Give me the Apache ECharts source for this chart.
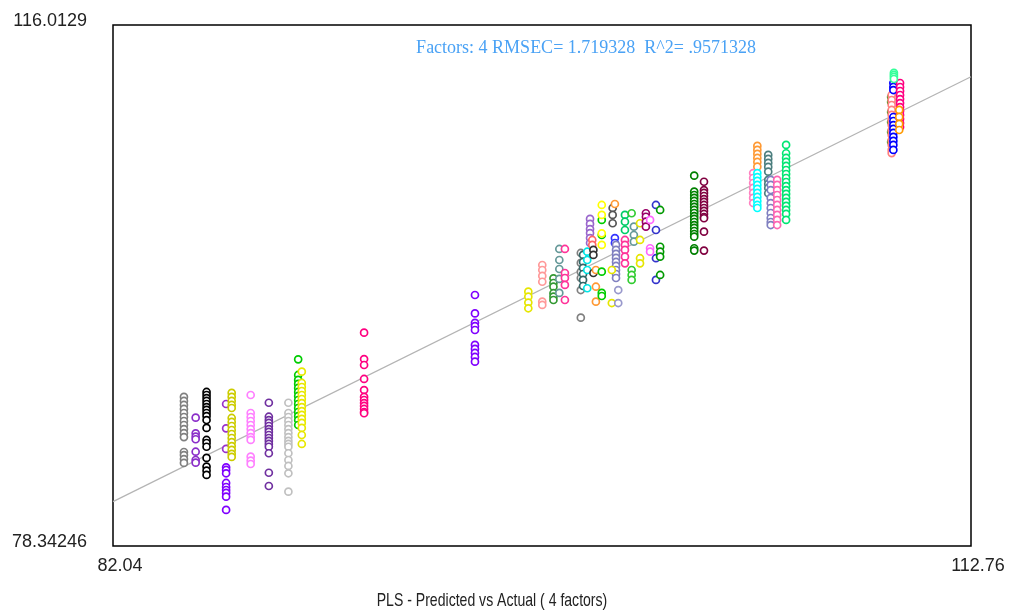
<!DOCTYPE html>
<html>
<head>
<meta charset="utf-8">
<title>PLS - Predicted vs Actual</title>
<script src="https://cdn.jsdelivr.net/npm/echarts@6/dist/echarts.min.js"></script>
<style>
  html, body { margin: 0; padding: 0; background: #fff; }
  #chart { width: 1009px; height: 611px; }
</style>
</head>
<body>
<div id="chart"></div>
<script>
// Axis ranges and the end-point labels printed on each axis
const X_MIN = 82.04, X_MAX = 112.76;
const Y_MIN = 78.34246, Y_MAX = 116.0129;
const xTickLabels = ['82.04', '112.76'];
const yTickLabels = ['78.34246', '116.0129'];

const statsText = 'Factors: 4 RMSEC= 1.719328  R^2= .9571328';
const captionText = 'PLS - Predicted vs Actual ( 4 factors)';

// Fitted line end points (actual -> predicted)
const fitActual = [82.04, 112.76];
const fitPredicted = [81.55, 112.27];

// Reference (actual) value of each sample
const sampleActual = [
  84.58, 85.00, 85.39, 86.09, 86.09, 86.29, 86.97, 87.62, 88.32, 88.67,
  88.80, 91.03, 95.00, 96.91, 97.41, 97.81, 98.02, 98.22, 98.79, 98.87,
  99.02, 99.12, 99.20, 99.24, 99.33, 99.54, 99.54, 99.93, 100.01, 100.01,
  100.05, 99.90, 100.13, 100.37, 100.37, 100.61, 100.69, 100.91, 101.12, 101.27,
  101.48, 101.63, 102.85, 103.20, 105.11, 104.96, 105.11, 105.50, 105.59, 105.82,
  106.14, 109.90, 109.92, 109.98, 110.22, 110.19, 110.00
];

// Marker colour of each sample
const sampleColor = [
  '#808080', '#8b2fc9', '#000000', '#9932cc', '#8000ff', '#cccc00', '#ff80ff', '#7030a0', '#c0c0c0', '#00cc00',
  '#e8e800', '#ff0080', '#8000ff', '#e6e600', '#ff9999', '#339933', '#669999', '#ff3399', '#808080', '#336666',
  '#00e5e5', '#9966cc', '#ff6666', '#333333', '#ff9933', '#00cc00', '#ffff00', '#555555', '#ff9933', '#3333ff',
  '#8080c0', '#e6e600', '#9999cc', '#00cc66', '#ff3399', '#33cc33', '#669999', '#e6e600', '#990066', '#ff66ff',
  '#3333cc', '#009900', '#008000', '#800040', '#ff9933', '#ff80c0', '#00ffff', '#4d7f7f', '#8080c0', '#ff66b2',
  '#00e673', '#669933', '#ff8080', '#0000ff', '#ff0080', '#ff9900', '#33ff99'
];

// Predicted values of the replicate spectra of each sample
const s01 = [89.12, 88.83, 88.54, 88.25, 87.96, 87.67, 87.38, 87.09, 86.80, 86.51, 86.22, 85.14, 84.92, 84.63, 84.35];
const s02 = [87.62, 86.49, 86.25, 86.06, 85.16, 84.56, 84.37];
const s03 = [89.48, 89.26, 89.04, 88.83, 88.61, 88.39, 88.18, 87.96, 87.74, 87.45, 86.88, 86.01, 85.79, 85.52, 84.71, 84.08, 83.79, 83.48];
const s04 = [88.61, 86.85, 85.36];
const s05 = [84.03, 83.84, 83.60, 82.90, 82.61, 82.39, 82.18, 81.91, 80.95];
const s06 = [89.41, 89.12, 88.83, 88.54, 88.32, 87.60, 87.31, 87.02, 86.73, 86.44, 86.15, 85.86, 85.57, 85.29, 85.00, 84.78];
const s07 = [89.26, 87.96, 87.67, 87.38, 87.09, 86.80, 86.51, 86.22, 86.01, 84.80, 84.51, 84.27];
const s08 = [88.70, 87.69, 87.45, 87.24, 87.02, 86.80, 86.59, 86.37, 86.15, 85.94, 85.72, 85.52, 85.05, 83.64, 82.68];
const s09 = [88.70, 87.96, 87.67, 87.38, 87.09, 86.80, 86.51, 86.22, 85.94, 85.72, 85.52, 85.05, 84.56, 84.13, 83.60, 82.27];
const s10 = [91.84, 90.71, 90.35, 90.06, 89.77, 89.48, 89.19, 88.90, 88.61, 88.32, 88.03, 87.74, 87.45, 87.09];
const s11 = [90.95, 90.13, 89.84, 89.55, 89.26, 88.97, 88.68, 88.39, 88.10, 87.82, 87.53, 87.24, 86.88, 86.37, 85.72];
const s12 = [93.77, 91.86, 91.43, 90.42, 89.62, 89.12, 88.90, 88.68, 88.47, 88.25, 88.03, 87.94];
const s13 = [96.49, 95.16, 94.48, 94.24, 93.96, 92.88, 92.59, 92.30, 92.01, 91.67];
const s14 = [96.73, 96.37, 95.94, 95.53];
const s15 = [98.66, 98.30, 97.87, 97.45, 96.01, 95.77];
const s16 = [97.70, 97.36, 97.09, 96.62, 96.37, 96.13];
const s17 = [99.82, 99.02, 98.37, 97.65, 96.64];
const s18 = [99.82, 98.08, 97.72, 97.22, 96.13];
const s19 = [99.53, 98.81, 98.16, 97.72, 96.85, 94.85];
const s20 = [99.39, 98.88, 98.45, 98.01, 97.58, 97.14];
const s21 = [99.62, 99.02, 98.30, 96.98];
const s22 = [101.99, 101.63, 101.26, 100.97, 100.61, 100.25];
const s23 = [100.47, 100.11];
const s24 = [99.75, 99.39, 98.08];
const s25 = [98.30, 97.09, 96.01];
const s26 = [101.92, 100.83, 98.18, 96.64, 96.42];
const s27 = [103.00, 102.28, 100.95, 100.11];
const s28 = [102.78, 102.28, 101.68];
const s29 = [103.07];
const s30 = [100.61, 100.25];
const s31 = [100.11, 99.75, 99.46, 99.17, 98.88, 98.59, 98.30, 98.01, 97.72];
const s32 = [98.30, 95.91];
const s33 = [96.85, 95.91];
const s34 = [102.28, 101.79, 101.19];
const s35 = [100.47, 100.11, 99.75, 99.26, 98.78];
const s36 = [102.40, 98.30, 97.94, 97.58];
const s37 = [101.43, 100.83, 100.35];
const s38 = [101.68, 100.47, 99.15, 98.78];
const s39 = [102.40, 102.15, 101.79, 101.43];
const s40 = [101.92, 99.87, 99.62];
const s41 = [103.00, 101.19, 99.15, 97.58];
const s42 = [102.64, 99.98, 99.62, 99.26, 97.94];
const s43 = [105.12, 103.96, 103.72, 103.51, 103.29, 103.07, 102.86, 102.64, 102.42, 102.20, 101.99, 101.77, 101.55, 101.34, 101.12, 100.90, 100.71, 99.87, 99.70];
const s44 = [104.68, 104.08, 103.87, 103.65, 103.43, 103.22, 103.00, 102.78, 102.57, 102.35, 102.13, 102.04, 101.07, 99.70];
const s45 = [107.27, 106.98, 106.69, 106.40, 106.11, 105.77];
const s46 = [105.31, 104.95, 104.59, 104.23, 103.87, 103.51, 103.14];
const s47 = [105.31, 105.02, 104.74, 104.45, 104.16, 103.87, 103.58, 103.29, 103.00, 102.78];
const s48 = [106.62, 106.33, 106.04, 105.75, 105.41, 104.81, 104.52, 104.23, 103.85];
const s49 = [104.81, 104.45, 104.08, 103.51, 103.14, 102.78, 102.42, 102.06, 101.77, 101.55];
const s50 = [104.81, 104.45, 104.08, 103.72, 103.36, 103.00, 102.64, 102.28, 101.92, 101.55];
const s51 = [107.34, 106.74, 106.40, 106.11, 105.82, 105.53, 105.24, 104.95, 104.66, 104.37, 104.08, 103.80, 103.51, 103.22, 102.93, 102.64, 102.35, 101.92];
const s52 = [110.81, 110.45, 109.72, 109.00, 108.28, 107.56];
const s53 = [110.95, 110.59, 110.23, 109.87, 109.51, 109.15, 108.78, 108.42, 108.06, 107.70, 107.34, 106.98, 106.75];
const s54 = [111.82, 111.53, 111.31, 109.36, 109.07, 108.78, 108.50, 108.21, 107.92, 107.63, 107.34, 106.98];
const s55 = [111.82, 111.53, 111.24, 110.95, 110.66, 110.37, 110.08, 109.80, 109.51, 109.22, 108.93, 108.64];
const s56 = [109.87, 109.36, 108.86, 108.42];
const s57 = [112.55, 112.40, 112.26, 112.11];

const samplePredicted = [
  s01, s02, s03, s04, s05, s06, s07, s08, s09, s10, s11, s12, s13, s14, s15, s16, s17, s18, s19, s20,
  s21, s22, s23, s24, s25, s26, s27, s28, s29, s30, s31, s32, s33, s34, s35, s36, s37, s38, s39, s40,
  s41, s42, s43, s44, s45, s46, s47, s48, s49, s50, s51, s52, s53, s54, s55, s56, s57
];

const LABEL_FONT = "'Liberation Sans', Arial, sans-serif";

function endLabel(v, min, max, labels) {
  if (Math.abs(v - min) < 1e-6) return labels[0];
  if (Math.abs(v - max) < 1e-6) return labels[1];
  return '';
}

const scatterSeries = samplePredicted.map((ys, i) => ({
  type: 'scatter',
  name: 'sample ' + (i + 1),
  symbol: 'circle',
  symbolSize: 7,
  z: 3,
  itemStyle: {
    color: '#ffffff',
    borderColor: sampleColor[i],
    borderWidth: 1.7,
    opacity: 1
  },
  emphasis: { disabled: true },
  data: ys.map(y => [sampleActual[i], y])
}));

const chart = echarts.init(document.getElementById('chart'), null, { renderer: 'canvas' });

chart.setOption({
  animation: false,
  backgroundColor: '#ffffff',
  grid: {
    left: 113, top: 25, width: 858, height: 521,
    show: true,
    backgroundColor: '#ffffff',
    borderColor: '#000000',
    borderWidth: 1.5
  },
  xAxis: {
    type: 'value',
    min: X_MIN, max: X_MAX,
    axisLine: { show: false },
    axisTick: { show: false },
    splitLine: { show: false },
    axisLabel: {
      showMinLabel: true, showMaxLabel: true,
      margin: 11,
      padding: [0, 0, 0, 14],
      color: '#222',
      fontSize: 18,
      fontFamily: LABEL_FONT,
      formatter: v => endLabel(v, X_MIN, X_MAX, xTickLabels)
    }
  },
  yAxis: {
    type: 'value',
    min: Y_MIN, max: Y_MAX,
    axisLine: { show: false },
    axisTick: { show: false },
    splitLine: { show: false },
    axisLabel: {
      showMinLabel: true, showMaxLabel: true,
      margin: 26,
      verticalAlign: 'bottom',
      lineHeight: 8,
      color: '#222',
      fontSize: 18,
      fontFamily: LABEL_FONT,
      formatter: v => endLabel(v, Y_MIN, Y_MAX, yTickLabels)
    }
  },
  graphic: [
    {
      type: 'text', x: 586, y: 48, z: 10,
      style: {
        text: statsText,
        fill: '#4aa2f5',
        font: "18px 'Liberation Serif', 'Times New Roman', serif",
        textAlign: 'center', textVerticalAlign: 'middle'
      }
    },
    {
      // narrow caption face
      type: 'text', x: 492, y: 601, z: 10, scaleX: 0.74,
      style: {
        text: captionText,
        fill: '#222',
        font: "19px " + LABEL_FONT,
        textAlign: 'center', textVerticalAlign: 'middle'
      }
    }
  ],
  series: [
    {
      type: 'line',
      name: 'fit',
      z: 2,
      symbol: 'none',
      silent: true,
      lineStyle: { color: '#b4b4b4', width: 1.2 },
      data: fitActual.map((x, i) => [x, fitPredicted[i]])
    }
  ].concat(scatterSeries)
});
</script>
</body>
</html>
